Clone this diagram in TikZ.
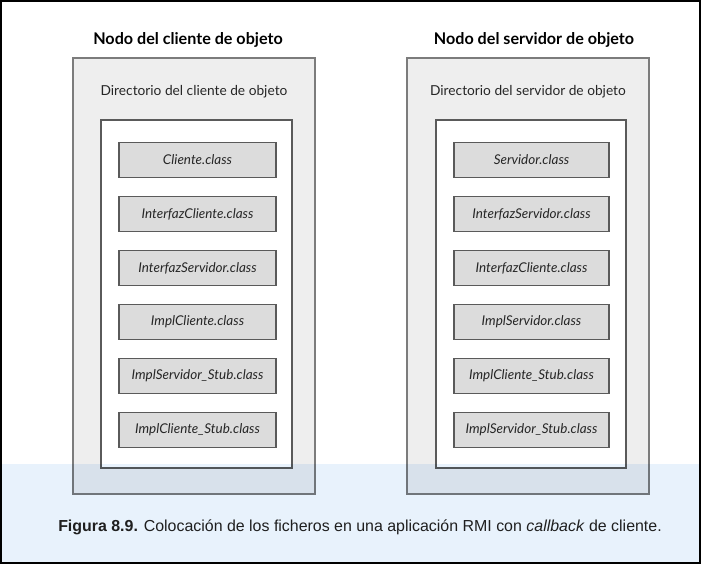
\documentclass[tikz,border=0pt]{standalone}
\usepackage{fontspec}
\setmainfont{Lato}
\newfontfamily\capfont{Liberation Sans}
\definecolor{outerfill}{HTML}{EEEEEE}
\definecolor{outerline}{HTML}{7C7C7C}
\definecolor{innerline}{HTML}{5A5A5A}
\definecolor{classfill}{HTML}{DCDCDC}
\definecolor{bandblue}{HTML}{E8F2FC}
\begin{document}
\begin{tikzpicture}[x=0.75pt,y=-0.75pt,
  outerbox/.style={draw=outerline,fill=outerfill,line width=1pt,minimum width=181.5pt,minimum height=327pt,inner sep=0pt},
  innerbox/.style={draw=innerline,fill=white,line width=0.9pt,minimum height=261pt,inner sep=0pt},
  classbox/.style={draw=innerline,fill=classfill,line width=0.9pt,minimum height=26.25pt,inner sep=0pt,font=\fontsize{10.1}{12}\selectfont\itshape,text=black!85},
  titletext/.style={font=\fontsize{12.1}{14}\selectfont\bfseries},
  dirtext/.style={font=\fontsize{10.3}{12}\selectfont,text=black!85}]
\useasboundingbox (0,0) rectangle (701,564);
\fill[white] (0,0) rectangle (701,564);
% left node
\node[titletext] (lt) at (188,40) {Nodo del cliente de objeto};
\node[outerbox] (lo) at (194,276) {};
\node[dirtext] (ld) at (194,92) {Directorio del cliente de objeto};
\node[innerbox,minimum width=143.25pt] (li) at (196.5,294) {};
\begin{scope}[every node/.style={classbox,minimum width=117.75pt}]
\node (l1) at (197.5,160) {Cliente.class};
\node (l2) at (197.5,214) {InterfazCliente.class};
\node (l3) at (197.5,268) {InterfazServidor.class};
\node (l4) at (197.5,322) {ImplCliente.class};
\node (l5) at (197.5,376) {ImplServidor\_Stub.class};
\node (l6) at (197.5,430) {ImplCliente\_Stub.class};
\end{scope}
% right node
\node[titletext] (rt) at (534,40) {Nodo del servidor de objeto};
\node[outerbox] (ro) at (528,276) {};
\node[dirtext] (rd) at (528,92) {Directorio del servidor de objeto};
\node[innerbox,minimum width=142.5pt] (ri) at (531,294) {};
\begin{scope}[every node/.style={classbox,minimum width=116.25pt}]
\node (r1) at (531.5,160) {Servidor.class};
\node (r2) at (531.5,214) {InterfazServidor.class};
\node (r3) at (531.5,268) {InterfazCliente.class};
\node (r4) at (531.5,322) {ImplServidor.class};
\node (r5) at (531.5,376) {ImplCliente\_Stub.class};
\node (r6) at (531.5,430) {ImplServidor\_Stub.class};
\end{scope}
% caption band
\begin{scope}[blend mode=multiply]
\fill[bandblue] (0,464) rectangle (701,564);
\end{scope}
\node[font=\capfont\fontsize{11.95}{14}\selectfont,text=black!88] (cap) at (360,527)
  {\textbf{Figura 8.9.} Colocación de los ficheros en una aplicación RMI con \textit{callback} de cliente.};
\draw[black,line width=1.5pt] (1,1) rectangle (700,563);
\end{tikzpicture}
\end{document}
